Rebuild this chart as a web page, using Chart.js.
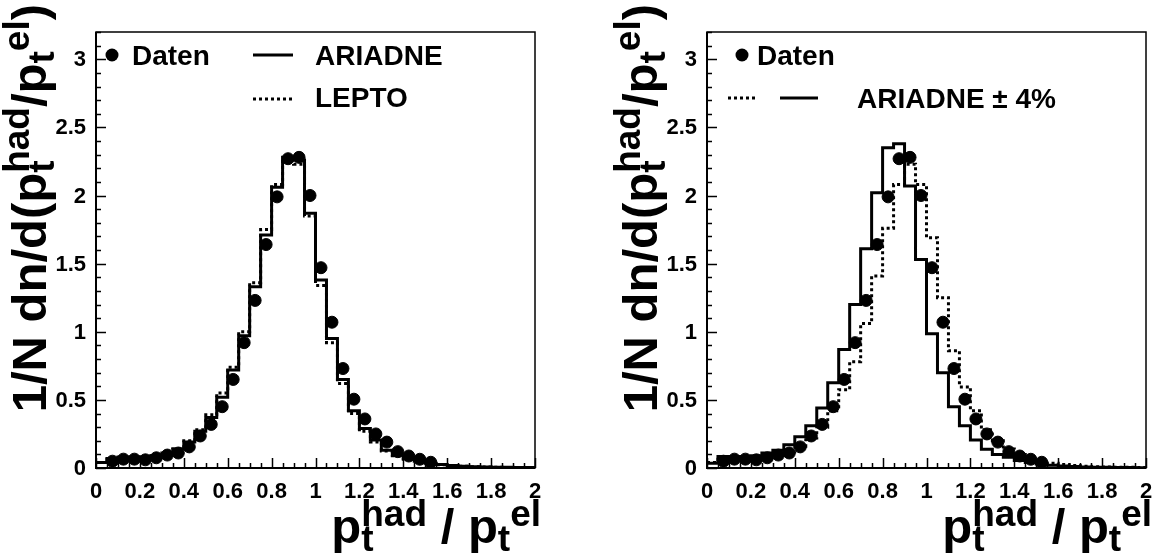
<!DOCTYPE html>
<html>
<head>
<meta charset="utf-8">
<script src="https://cdn.jsdelivr.net/npm/chart.js@4/dist/chart.umd.min.js"></script>
<style>
  body { margin: 0; background: #fff; width: 1168px; height: 558px; overflow: hidden; position: relative; }
  .panel { position: absolute; top: 0; width: 584px; height: 558px; }
</style>
</head>
<body>
<div class="panel" style="left:0"><canvas id="leftChart" width="584" height="558"></canvas></div>
<div class="panel" style="left:611px"><canvas id="rightChart" width="584" height="558"></canvas></div>
<script>
// p_t balance: histograms in bins of 0.05 from 0 to 2
const binWidth = 0.05;
const nBins = 40;

// measured points (bin centres)
const dataX = [0.075, 0.125, 0.175, 0.225, 0.275, 0.325, 0.375, 0.425, 0.475, 0.525,
               0.575, 0.625, 0.675, 0.725, 0.775, 0.825, 0.875, 0.925, 0.975, 1.025,
               1.075, 1.125, 1.175, 1.225, 1.275, 1.325, 1.375, 1.425, 1.475, 1.525];
const dataY = [0.05, 0.065, 0.065, 0.06, 0.075, 0.095, 0.11, 0.155, 0.235, 0.32,
               0.45, 0.65, 0.92, 1.23, 1.64, 1.99, 2.27, 2.28, 2.0, 1.47,
               1.07, 0.73, 0.505, 0.36, 0.25, 0.19, 0.12, 0.088, 0.064, 0.042];

// MC contents per bin
const ariadne = [0.04, 0.07, 0.08, 0.08, 0.08, 0.09, 0.11, 0.14, 0.19, 0.27,
                 0.37, 0.52, 0.72, 0.97, 1.33, 1.71, 2.06, 2.28, 2.26, 1.87,
                 1.38, 0.95, 0.65, 0.42, 0.29, 0.205, 0.13, 0.095, 0.07, 0.05,
                 0.035, 0.025, 0.018, 0.013, 0.01, 0.008, 0.006, 0.005, 0.004, 0.003];
const lepto   = [0.04, 0.065, 0.075, 0.075, 0.08, 0.09, 0.11, 0.14, 0.20, 0.28,
                 0.39, 0.55, 0.74, 1.00, 1.36, 1.75, 2.08, 2.26, 2.23, 1.85,
                 1.34, 0.92, 0.62, 0.40, 0.27, 0.19, 0.125, 0.09, 0.065, 0.045,
                 0.032, 0.023, 0.016, 0.012, 0.009, 0.007, 0.005, 0.004, 0.003, 0.003];
// ARIADNE with hadronic scale shifted by -4% / +4%
const ariadneDown = [0.034, 0.085, 0.085, 0.085, 0.09, 0.11, 0.13, 0.17, 0.23, 0.31,
                     0.44, 0.625, 0.87, 1.20, 1.61, 2.02, 2.35, 2.38, 2.07, 1.53,
                     0.985, 0.70, 0.45, 0.31, 0.205, 0.137, 0.10, 0.078, 0.055, 0.04,
                     0.03, 0.02, 0.015, 0.011, 0.008, 0.006, 0.005, 0.004, 0.003, 0.002];
const ariadneUp   = [0.04, 0.065, 0.07, 0.07, 0.075, 0.085, 0.10, 0.12, 0.16, 0.22,
                     0.30, 0.42, 0.575, 0.78, 1.06, 1.41, 1.76, 2.08, 2.23, 2.08,
                     1.69, 1.25, 0.86, 0.595, 0.42, 0.28, 0.20, 0.14, 0.10, 0.075,
                     0.05, 0.035, 0.025, 0.018, 0.013, 0.01, 0.008, 0.006, 0.005, 0.004];

const xTickLabels = ['0', '0.2', '0.4', '0.6', '0.8', '1', '1.2', '1.4', '1.6', '1.8', '2'];
const yTickLabels = ['0', '0.5', '1', '1.5', '2', '2.5', '3'];

const FONT = '"Liberation Sans", Arial, Helvetica, sans-serif';
const TITLE_SIZE = 49;
const SCRIPT_SIZE = 37;

function histPoints(contents) {
  const pts = contents.map((v, i) => ({ x: i * binWidth, y: v }));
  pts.push({ x: nBins * binWidth, y: contents[contents.length - 1] });
  return pts;
}

function histDataset(contents, dashed) {
  return {
    type: 'line',
    data: histPoints(contents),
    stepped: true,
    borderColor: '#000',
    borderWidth: 3,
    borderDash: dashed ? [3, 3] : [],
    pointRadius: 0,
    fill: false
  };
}

function pointsDataset() {
  return {
    type: 'scatter',
    data: dataX.map((x, i) => ({ x: x, y: dataY[i] })),
    backgroundColor: '#000',
    borderColor: '#000',
    pointRadius: 6,
    pointHoverRadius: 6,
    showLine: false
  };
}

// text with sub/superscripts: strings or {sub, sup, after}
// "after" puts the superscript behind the subscript instead of above it
function scriptWidth(ctx, p) {
  ctx.font = `bold ${SCRIPT_SIZE}px ${FONT}`;
  const ws = ctx.measureText(p.sub).width, wp = ctx.measureText(p.sup).width;
  return p.after ? ws + wp : Math.max(ws, wp);
}

function richWidth(ctx, parts) {
  let w = 0;
  parts.forEach(p => {
    if (typeof p === 'string') {
      ctx.font = `bold ${TITLE_SIZE}px ${FONT}`;
      w += ctx.measureText(p).width;
    } else {
      w += scriptWidth(ctx, p);
    }
  });
  return w;
}

function drawRich(ctx, parts, x, y) {
  ctx.textAlign = 'left';
  ctx.textBaseline = 'alphabetic';
  parts.forEach(p => {
    if (typeof p === 'string') {
      ctx.font = `bold ${TITLE_SIZE}px ${FONT}`;
      ctx.fillText(p, x, y);
      x += ctx.measureText(p).width;
    } else {
      const w = scriptWidth(ctx, p);
      ctx.font = `bold ${SCRIPT_SIZE}px ${FONT}`;
      ctx.fillText(p.sub, x, y + 0.16 * TITLE_SIZE);
      const dx = p.after ? ctx.measureText(p.sub).width : 0;
      ctx.fillText(p.sup, x + dx, y - 0.34 * TITLE_SIZE);
      x += w;
    }
  });
}

const yTitle = ['1/N dn/d(p', { sub: 't', sup: 'had' }, '/p', { sub: 't', sup: 'el', after: true }, ')'];
const xTitle = ['p', { sub: 't', sup: 'had' }, ' / p', { sub: 't', sup: 'el', after: true }];

const panelDecor = {
  id: 'panelDecor',
  afterDraw(chart, args, opts) {
    const ctx = chart.ctx;
    const xs = chart.scales.x, ys = chart.scales.y;
    const a = chart.chartArea;
    ctx.save();
    ctx.strokeStyle = '#000';
    ctx.fillStyle = '#000';

    // frame
    ctx.lineWidth = 1.5;
    ctx.strokeRect(a.left, a.top, a.right - a.left, a.bottom - a.top);
    ctx.lineWidth = 2;
    ctx.beginPath();
    ctx.moveTo(a.left, a.top); ctx.lineTo(a.left, a.bottom); ctx.lineTo(a.right, a.bottom);
    ctx.stroke();

    // inward ticks
    ctx.lineWidth = 1.5;
    ctx.beginPath();
    for (let k = 0; k <= 32; k++) {
      const py = Math.round(ys.getPixelForValue(k * 0.1)) + 0.5;
      const len = k % 5 === 0 ? 10 : 5;
      ctx.moveTo(a.left, py); ctx.lineTo(a.left + len, py);
    }
    for (let k = 0; k <= 40; k++) {
      const px = Math.round(xs.getPixelForValue(k * 0.05)) + 0.5;
      const len = k % 4 === 0 ? 10 : 5;
      ctx.moveTo(px, a.bottom); ctx.lineTo(px, a.bottom - len);
    }
    ctx.stroke();

    // tick labels
    ctx.font = `bold 22px ${FONT}`;
    ctx.textBaseline = 'middle';
    ctx.textAlign = 'right';
    yTickLabels.forEach(t => ctx.fillText(t, a.left - 10, ys.getPixelForValue(parseFloat(t)) + 1));
    ctx.textAlign = 'center';
    ctx.textBaseline = 'alphabetic';
    xTickLabels.forEach(t => ctx.fillText(t, xs.getPixelForValue(parseFloat(t)), a.bottom + 30));

    // axis titles
    const xw = richWidth(ctx, xTitle);
    drawRich(ctx, xTitle, a.right + 6 - xw, 543);
    const yw = richWidth(ctx, yTitle);
    ctx.save();
    ctx.translate(46, 4 + yw);
    ctx.rotate(-Math.PI / 2);
    drawRich(ctx, yTitle, 0, 0);
    ctx.restore();

    // legend
    ctx.font = `bold 28px ${FONT}`;
    ctx.textAlign = 'left';
    opts.entries.forEach(e => {
      if (e.kind === 'point') {
        ctx.beginPath();
        ctx.arc(e.x, e.y, 6.5, 0, Math.PI * 2);
        ctx.fill();
      } else if (e.kind === 'text') {
        ctx.fillText(e.text, e.x, e.y);
      } else {
        ctx.lineWidth = 3;
        ctx.setLineDash(e.kind === 'dotted' ? [3, 3] : []);
        ctx.beginPath();
        ctx.moveTo(e.x, e.y); ctx.lineTo(e.x2, e.y);
        ctx.stroke();
        ctx.setLineDash([]);
      }
    });
    ctx.restore();
  }
};

function makePanel(id, solid, dotted, legendEntries) {
  new Chart(document.getElementById(id), {
    data: {
      datasets: [pointsDataset(), histDataset(solid, false), histDataset(dotted, true)]
    },
    options: {
      responsive: false,
      animation: false,
      events: [],
      layout: { padding: { left: 96, right: 49, top: 32, bottom: 90 } },
      scales: {
        x: { type: 'linear', min: 0, max: 2, display: false },
        y: { type: 'linear', min: 0, max: 3.2, display: false }
      },
      plugins: {
        legend: { display: false },
        tooltip: { enabled: false },
        panelDecor: { entries: legendEntries }
      }
    },
    plugins: [panelDecor]
  });
}

makePanel('leftChart', ariadne, lepto, [
  { kind: 'point', x: 112, y: 55 },
  { kind: 'text', text: 'Daten', x: 132, y: 65 },
  { kind: 'solid', x: 253, x2: 293, y: 55 },
  { kind: 'text', text: 'ARIADNE', x: 315, y: 65 },
  { kind: 'dotted', x: 253, x2: 292, y: 99 },
  { kind: 'text', text: 'LEPTO', x: 315, y: 107 }
]);

makePanel('rightChart', ariadneDown, ariadneUp, [
  { kind: 'point', x: 131, y: 55 },
  { kind: 'text', text: 'Daten', x: 146, y: 65 },
  { kind: 'dotted', x: 117, x2: 146, y: 98 },
  { kind: 'solid', x: 169, x2: 207, y: 98 },
  { kind: 'text', text: 'ARIADNE \u00b1 4%', x: 246, y: 108 }
]);
</script>
</body>
</html>
